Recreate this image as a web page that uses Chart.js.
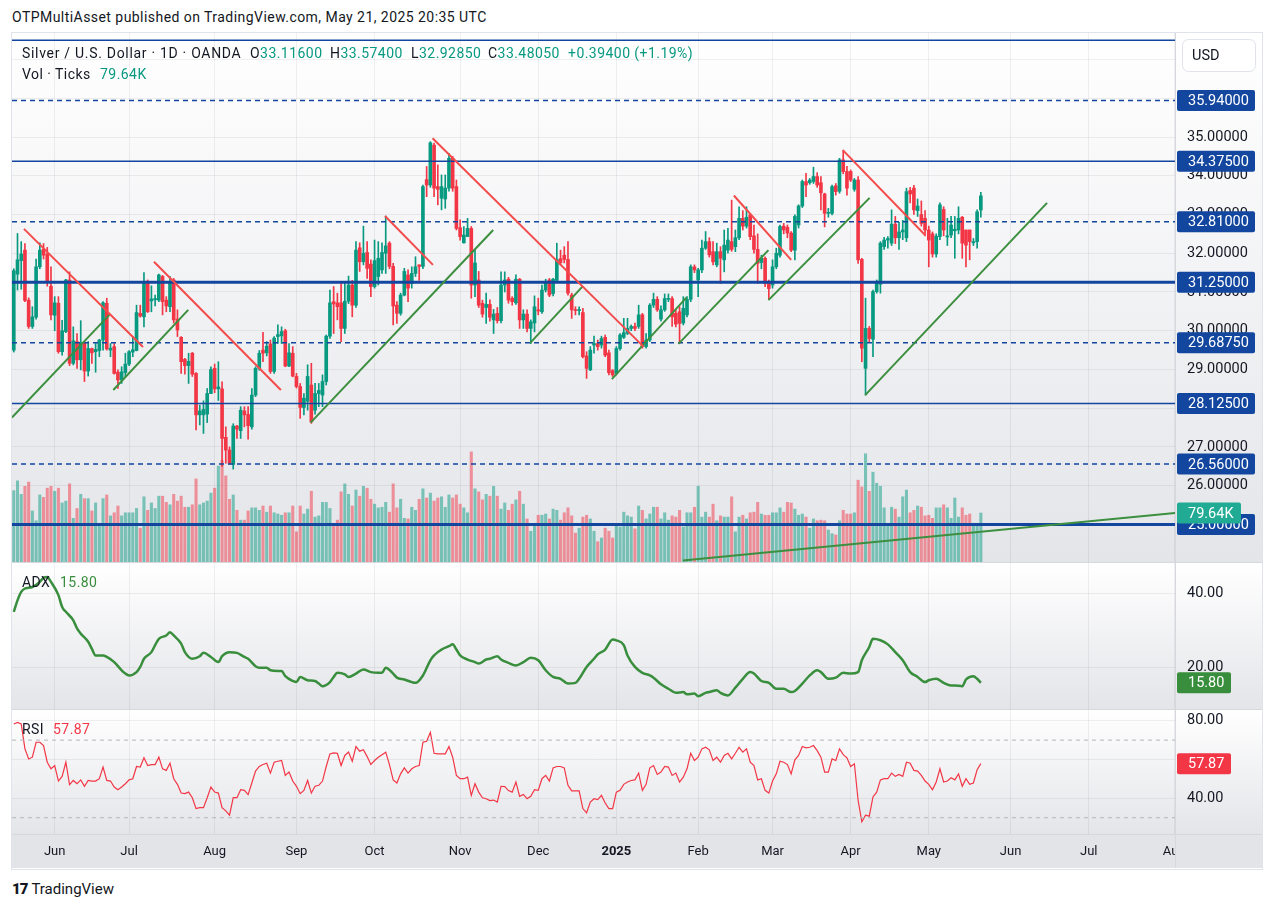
<!DOCTYPE html>
<html>
<head>
<meta charset="utf-8">
<script src="https://cdn.jsdelivr.net/npm/chart.js@4.4.1/dist/chart.umd.min.js"></script>
<style>
  body { margin: 0; width: 1274px; height: 913px; background: #fff; position: relative; overflow: hidden;
         font-family: Roboto, "Noto Sans", sans-serif; color: #131722; }
  canvas { position: absolute; }
  .abs { position: absolute; white-space: nowrap; font-size: 14px; letter-spacing: 0.45px; }
  .v { color: #089981; }
  #pub { left: 12px; top: 9px; }
  #frame { position: absolute; left: 11px; top: 32px; width: 1250px; height: 836px; border: 1px solid #e0e3eb; }
  .sep { position: absolute; left: 12px; width: 1250px; height: 1px; background: #d6d8de; }
  .t1 { top: 45px; }
  .t2 { top: 66px; }
  #foot { left: 12px; top: 880px; font-size: 15px; letter-spacing: 0; }
  #foot b { font-weight: 900; letter-spacing: -1px; margin-right: 4px; }
</style>
</head>
<body>
<div id="pub" class="abs">OTPMultiAsset published on TradingView.com, May 21, 2025 20:35 UTC</div>
<div id="frame"></div>
<canvas id="cMain" width="1250" height="529" style="left:12px;top:33px"></canvas>
<div class="sep" style="top:562px"></div>
<canvas id="cAdx" width="1250" height="146" style="left:12px;top:563px"></canvas>
<div class="sep" style="top:709px"></div>
<canvas id="cRsi" width="1250" height="158" style="left:12px;top:710px"></canvas>

<div class="abs t1" style="left:22px;letter-spacing:0.7px">Silver / U.S. Dollar · 1D · OANDA</div>
<div class="abs t1" style="left:250px">O<span class="v">33.11600</span></div>
<div class="abs t1" style="left:330px">H<span class="v">33.57400</span></div>
<div class="abs t1" style="left:411px">L<span class="v">32.92850</span></div>
<div class="abs t1" style="left:488px">C<span class="v">33.48050</span></div>
<div class="abs t1 v" style="left:568px">+0.39400 (+1.19%)</div>
<div class="abs t2" style="left:22px">Vol · Ticks</div>
<div class="abs t2 v" style="left:100px">79.64K</div>
<div class="abs" style="left:22px;top:574px">ADX</div>
<div class="abs" style="left:60px;top:574px;color:#388e3c">15.80</div>
<div class="abs" style="left:22px;top:721px">RSI</div>
<div class="abs" style="left:53px;top:721px;color:#f23645">57.87</div>
<div id="foot" class="abs"><b>17</b>TradingView</div>

<script>
// bar index 0 = 17 May 2024, one bar per trading day, last bar (260) = 21 May 2025
const monthIdx = [11, 31, 54, 76, 97, 120, 141, 162, 184, 204, 225, 246, 268, 289, 312];
const monthLabels = ['Jun', 'Jul', 'Aug', 'Sep', 'Oct', 'Nov', 'Dec', '2025', 'Feb', 'Mar', 'Apr', 'May', 'Jun', 'Jul', 'Aug'];

const opens = [
  29.50,31.46,31.81,32.08,30.79,30.11,30.35,31.65,32.10,31.98,
  31.15,30.40,30.71,29.46,29.98,31.31,29.16,29.72,29.25,29.69,
  28.96,29.54,29.46,29.49,29.76,30.71,29.50,29.59,28.93,28.73,
  28.92,29.14,29.45,29.49,30.45,30.36,31.22,30.77,30.80,30.79,
  31.40,30.79,30.62,31.31,30.30,29.83,29.26,29.10,29.42,28.90,
  27.83,27.83,27.85,28.38,29.03,28.50,28.50,27.25,26.92,26.55,
  27.54,27.42,27.93,27.84,27.52,28.34,29.03,29.50,29.43,29.66,
  28.95,29.85,29.87,30.00,29.09,29.42,28.82,28.56,28.02,28.18,
  28.60,27.95,28.38,28.34,28.69,29.86,30.75,30.72,30.72,30.06,
  30.76,31.18,30.66,32.14,31.78,32.02,31.72,31.14,31.40,31.57,
  32.00,32.26,31.66,30.66,30.45,30.92,31.44,31.22,31.48,31.70,
  31.66,33.90,33.76,34.79,33.72,33.42,33.40,33.68,34.45,33.72,
  32.66,32.27,32.43,32.64,31.18,31.31,30.71,30.60,30.68,30.28,
  30.45,30.26,31.18,31.33,30.84,30.72,31.33,30.28,30.43,30.06,
  30.20,30.54,30.49,31.05,31.31,30.96,31.30,31.86,31.95,31.84,
  30.92,30.54,30.52,30.47,29.35,28.99,29.63,29.67,29.63,29.83,
  29.43,28.97,28.90,29.54,29.83,29.93,30.06,30.11,30.11,30.41,
  29.59,29.76,30.66,30.81,30.30,30.54,30.81,30.83,30.45,30.49,
  30.20,30.41,30.81,31.65,31.31,31.57,32.13,32.30,32.04,31.70,
  32.04,31.83,32.08,32.30,32.17,32.40,32.90,32.70,32.99,32.45,
  32.10,31.76,31.87,31.27,31.18,31.65,31.95,32.70,32.67,32.52,
  32.08,32.73,33.22,33.85,33.82,33.85,33.98,33.82,33.53,33.03,
  33.03,33.74,33.60,34.41,34.11,34.11,33.65,33.89,31.84,29.03,
  30.06,29.78,31.01,31.20,32.17,32.34,32.26,32.75,32.40,32.55,
  32.40,33.62,33.68,33.10,33.00,32.90,32.60,32.50,31.98,32.43,
  33.13,32.42,32.47,32.58,32.60,32.93,32.60,32.60,32.27,32.30,
  33.116
];
const highs = [
  31.60,32.51,32.30,32.25,30.85,30.62,31.85,32.27,32.25,32.15,
  31.65,30.88,30.88,30.27,31.33,31.52,30.10,29.93,30.26,29.72,
  29.72,29.55,29.67,29.78,30.75,30.84,29.67,29.67,28.99,29.07,
  29.42,29.49,29.85,30.66,30.66,31.50,31.31,31.16,30.92,31.46,
  31.43,30.88,31.40,31.35,30.54,29.85,29.29,29.42,29.44,28.92,
  28.08,28.19,28.51,29.07,29.14,29.20,28.68,27.52,27.00,27.60,
  27.56,28.04,28.04,28.04,28.51,29.07,29.49,29.96,29.72,29.76,
  29.85,30.15,30.10,30.04,29.67,29.59,28.90,28.64,28.38,29.12,
  29.16,28.64,28.64,28.86,29.89,31.05,31.14,30.97,31.22,31.27,
  31.41,31.30,32.30,32.27,32.70,32.30,31.83,32.34,32.30,32.27,
  32.96,32.30,31.74,30.75,30.97,31.61,31.57,31.65,31.91,31.70,
  33.76,34.24,34.88,34.84,34.28,34.02,34.02,34.58,34.50,33.89,
  32.86,32.69,32.90,32.69,32.08,31.53,30.79,30.97,30.80,30.55,
  30.60,31.52,31.52,31.38,30.88,31.44,31.35,30.54,30.54,30.28,
  30.90,30.84,31.18,31.33,31.35,31.35,32.26,32.08,32.17,32.30,
  30.97,30.62,30.62,30.58,29.46,29.59,29.86,29.76,29.86,29.89,
  29.50,29.00,29.59,29.93,30.32,30.32,30.15,30.20,30.66,30.45,
  29.93,30.70,30.97,30.88,30.64,30.95,30.95,30.88,30.54,30.62,
  30.88,30.88,31.70,31.70,31.61,32.34,32.56,32.40,32.30,32.26,
  32.17,32.60,32.64,33.37,32.60,33.20,33.10,33.20,33.03,32.73,
  32.50,31.95,31.91,31.31,31.83,32.13,32.73,32.77,32.73,32.56,
  32.99,33.25,33.89,34.06,33.93,34.22,34.08,33.98,33.55,33.16,
  33.76,33.80,34.45,34.66,34.24,34.15,33.93,33.98,31.87,30.84,
  30.11,31.05,31.31,32.30,32.41,32.43,33.12,32.95,32.80,32.85,
  33.68,33.70,33.75,33.40,33.35,33.10,32.70,32.55,32.50,33.30,
  33.20,32.90,32.95,32.95,33.20,32.95,32.60,32.60,32.38,33.12,
  33.574
];
const lows = [
  29.45,31.05,31.07,30.75,30.06,30.06,30.30,31.60,31.85,31.15,
  30.28,30.00,29.42,29.37,29.95,29.10,29.12,29.03,28.99,28.69,
  28.83,29.16,28.93,29.33,29.50,29.50,29.33,28.88,28.51,28.64,
  28.82,29.10,29.33,29.48,30.35,30.10,30.47,30.49,30.64,30.75,
  30.41,30.49,30.49,30.20,29.85,28.90,28.88,28.64,28.82,27.44,
  27.57,27.35,27.63,28.38,28.40,28.20,26.50,26.58,26.55,26.43,
  27.22,27.22,27.52,27.20,27.46,28.30,28.98,29.20,29.35,28.90,
  28.90,29.67,29.67,29.07,29.07,28.81,28.52,27.74,27.83,27.95,
  27.61,27.85,28.04,28.04,28.60,29.80,29.93,30.28,29.72,29.93,
  30.70,30.36,30.60,31.53,31.70,31.35,30.88,31.10,31.18,31.48,
  31.48,31.60,30.15,30.19,30.40,30.90,30.75,31.10,31.40,31.30,
  31.60,33.46,33.70,33.46,33.25,33.12,33.16,33.60,33.60,32.60,
  32.34,32.26,32.43,30.84,30.88,30.60,30.35,30.19,30.25,29.93,
  30.20,30.20,31.00,30.71,30.66,30.68,30.06,30.06,29.97,29.67,
  29.97,30.41,30.45,31.00,30.88,30.90,31.25,31.70,31.75,30.92,
  30.32,30.41,30.41,29.30,28.77,28.97,29.42,29.50,29.55,29.33,
  28.86,28.82,28.86,29.50,29.80,29.90,30.00,30.00,30.06,29.55,
  29.55,29.72,30.60,30.50,30.25,30.50,30.75,30.11,30.10,29.67,
  30.15,30.36,30.75,31.50,30.88,31.50,32.10,31.90,31.70,31.65,
  31.22,31.52,32.00,32.05,32.04,32.35,32.60,32.65,32.35,32.00,
  31.22,31.60,31.14,30.80,31.10,31.60,31.90,32.50,32.40,32.04,
  31.83,32.65,33.18,33.46,33.78,33.80,33.70,33.12,32.68,32.93,
  32.99,33.50,33.55,34.05,33.50,33.85,33.60,31.74,29.20,28.34,
  29.70,29.33,30.97,30.97,32.10,32.13,32.20,32.25,32.10,32.35,
  32.30,33.30,33.00,32.95,32.70,32.45,31.65,31.90,31.90,32.35,
  32.45,32.20,32.40,31.87,32.50,31.87,31.65,31.83,32.20,32.13,
  32.9285
];
const closes = [
  31.55,31.83,31.98,30.78,30.11,30.36,31.65,32.08,31.95,31.27,
  30.41,30.72,29.46,30.00,31.31,29.16,29.74,29.25,29.70,28.96,
  29.54,29.43,29.52,29.76,30.72,29.53,29.55,28.90,28.73,28.94,
  29.14,29.46,29.51,30.47,30.38,31.22,30.49,30.82,30.83,31.44,
  30.75,30.64,31.24,30.28,30.02,29.20,29.10,29.21,28.88,27.83,
  27.93,27.97,28.38,29.00,28.50,28.55,27.22,26.92,26.58,27.54,
  27.46,27.95,27.83,27.55,28.34,29.03,29.42,29.42,29.60,28.95,
  29.81,29.90,29.98,29.09,29.43,28.83,28.56,28.02,28.26,28.82,
  27.65,28.38,28.46,28.69,29.86,30.72,30.69,30.62,30.06,30.76,
  31.18,30.66,32.08,31.78,32.00,31.61,31.14,31.81,31.87,32.02,
  32.19,31.66,30.64,30.45,30.92,31.53,31.10,31.48,31.65,31.66,
  33.72,33.76,34.85,33.68,33.65,33.72,33.68,34.45,33.68,32.64,
  32.43,32.47,32.64,31.18,31.75,30.66,30.43,30.68,30.35,30.43,
  30.26,31.18,31.31,30.79,30.75,31.33,30.28,30.43,30.06,30.23,
  30.62,30.51,31.05,31.27,30.92,31.33,31.84,31.76,31.84,30.97,
  30.54,30.52,30.54,29.33,29.03,29.50,29.67,29.59,29.80,29.37,
  28.92,28.86,29.54,29.89,29.95,30.06,30.11,30.06,30.41,29.59,
  29.76,30.66,30.81,30.54,30.54,30.83,30.83,30.36,30.17,30.19,
  30.58,30.81,31.65,31.57,31.57,32.13,32.30,31.96,31.78,32.04,
  31.87,32.21,32.34,32.10,32.40,32.90,32.70,32.93,32.43,32.10,
  31.74,31.87,31.22,31.09,31.65,32.00,32.69,32.60,32.52,32.08,
  32.95,33.22,33.85,33.76,33.89,33.98,33.76,33.56,33.03,33.05,
  33.72,33.59,34.41,34.11,33.68,33.89,33.89,31.83,29.55,30.06,
  29.80,31.01,31.27,32.26,32.34,32.38,32.75,32.40,32.55,32.60,
  33.59,33.53,33.12,33.22,32.77,32.60,32.34,31.98,32.44,33.25,
  32.60,32.45,32.73,32.62,32.90,32.26,32.21,32.30,32.30,33.07,
  33.4805
];
// volume in thousands of ticks
const volumes = [
  116,132,110,123,130,83,67,109,105,120,
  123,115,120,96,99,127,71,87,110,103,
  103,83,96,63,103,109,75,80,91,75,
  80,80,80,87,55,106,84,96,87,107,
  107,97,93,110,99,107,89,89,93,135,
  93,96,99,112,120,156,165,140,102,109,
  84,68,68,83,88,88,84,91,81,91,
  80,78,76,80,80,91,49,91,78,86,
  115,73,75,97,97,87,63,68,114,127,
  110,91,117,107,123,120,102,94,88,89,
  97,81,127,88,102,71,70,89,84,102,
  119,104,112,99,104,106,89,109,104,109,
  94,88,80,179,119,114,101,110,107,123,
  107,86,96,84,94,101,115,94,70,50,
  63,76,76,78,70,86,84,68,80,88,
  75,47,55,73,76,70,50,33,39,55,
  50,39,59,57,81,75,73,54,91,84,
  70,78,89,89,70,80,68,75,73,84,
  57,80,80,89,123,73,81,73,94,67,
  75,73,73,106,49,73,76,70,80,81,
  97,78,76,76,80,80,88,81,97,96,
  86,76,78,73,55,70,67,68,67,52,
  46,44,67,84,78,78,80,133,122,176,
  115,146,128,123,88,63,89,86,73,106,
  117,80,84,91,89,75,76,71,88,88,
  93,88,71,104,73,88,76,78,63,63,
  79.64
];
const adxBars = [0,1,2,3,4,5,7,8,9,10,12,13,14,16,17,18,20,21,22,24,25,27,29,30,31,33,34,35,37,38,39,41,42,43,45,46,48,50,51,53,55,56,58,60,62,63,65,66,68,69,71,72,73,75,76,77,79,81,82,83,85,86,87,89,90,92,94,96,98,99,100,102,103,105,107,108,110,112,113,114,115,117,118,119,120,122,124,125,127,128,130,131,133,135,137,139,141,143,145,147,149,151,152,154,156,157,159,161,162,164,165,167,169,171,172,174,176,178,180,181,183,184,186,187,189,190,192,194,196,198,199,201,203,205,207,209,210,212,214,216,217,219,221,223,225,227,228,230,231,233,235,237,239,241,243,245,246,248,250,252,253,255,256,258,259,260];
const adxValues = [35.0,38.1,40.4,41.3,41.5,41.7,43.1,44.2,44.4,43.1,39.5,36.3,35.0,32.7,30.5,29.1,26.9,25.0,23.2,23.2,22.8,21.4,19.2,18.3,17.8,18.7,20.1,22.3,24.1,26.0,27.7,28.6,29.5,28.6,26.4,24.1,22.3,23.0,23.9,22.8,21.4,23.0,24.1,23.9,22.8,22.3,20.3,19.9,19.9,19.2,19.0,19.0,17.6,16.3,16.0,17.4,16.5,16.3,15.6,14.9,16.0,17.4,18.5,18.1,17.4,18.3,19.4,18.7,18.5,18.5,19.9,18.3,17.2,16.7,16.0,15.8,17.8,21.9,23.2,24.1,24.8,25.7,26.2,24.8,23.2,22.1,21.4,21.0,22.1,22.3,23.0,22.1,21.2,20.5,21.4,22.6,21.9,19.2,17.4,16.9,15.6,15.8,16.9,20.1,22.3,23.5,24.8,27.5,27.3,26.0,23.2,20.1,18.5,17.8,17.2,15.4,14.2,13.1,13.3,12.7,12.9,12.2,13.1,13.3,13.8,13.1,12.4,14.5,16.9,18.7,18.3,16.3,15.8,14.2,14.2,13.3,13.6,15.6,17.8,19.2,18.7,16.9,17.2,18.5,18.3,18.7,21.9,25.5,27.7,27.3,26.2,24.1,21.9,18.7,17.4,16.0,16.5,16.9,15.8,15.1,15.1,14.9,16.7,17.6,16.9,15.8];
const rsiValues = [
  78.3,79.1,78.3,65.5,60.3,61.2,68.9,68.9,67.2,58.6,
  55.2,56.9,48.9,51.3,58.6,47.0,49.2,47.5,49.5,46.2,
  49.2,48.9,48.9,50.1,56.1,49.2,48.9,45.8,44.4,45.8,
  47.5,49.5,50.1,56.4,56.1,60.9,56.9,57.4,57.4,61.2,
  55.2,54.4,58.1,50.1,47.2,42.7,42.4,43.2,40.3,34.7,
  35.2,35.2,40.3,45.8,43.2,42.7,35.2,33.5,31.3,40.3,
  40.3,44.4,44.1,41.9,47.9,54.0,56.4,57.4,58.1,53.0,
  58.6,59.1,59.5,51.8,53.5,48.9,46.2,42.4,44.1,49.2,
  42.7,46.2,46.7,48.9,56.4,62.9,63.4,63.2,56.9,62.1,
  63.8,59.1,66.7,64.3,65.0,61.5,57.4,59.5,61.2,62.5,
  63.8,57.4,49.5,47.9,52.6,55.7,53.0,55.2,56.4,56.9,
  68.9,69.4,74.0,63.2,62.9,62.9,62.9,66.7,61.2,51.8,
  50.1,50.1,50.9,41.5,47.5,43.2,40.3,39.8,38.8,39.1,
  38.1,46.2,46.0,44.0,43.2,48.4,41.0,42.0,39.8,41.0,
  44.4,44.1,50.1,51.8,48.9,55.7,56.4,56.4,55.7,46.7,
  43.8,43.8,43.8,34.7,32.5,38.1,39.8,39.3,41.5,37.6,
  34.7,34.7,43.2,44.1,47.2,48.4,49.2,49.5,53.0,44.1,
  47.2,55.7,56.9,52.3,53.5,56.4,56.1,51.8,53.0,48.4,
  50.9,55.2,63.2,59.5,61.2,65.5,66.3,65.0,59.5,61.2,
  58.6,62.1,63.2,60.3,63.2,66.3,63.8,65.5,58.6,56.9,
  49.5,50.1,44.1,42.7,48.9,52.6,59.1,58.6,57.4,52.6,
  59.8,62.1,66.7,66.0,66.3,67.2,64.6,61.2,53.5,53.5,
  60.3,59.5,65.5,62.5,60.9,56.4,57.8,39.0,27.9,31.3,
  30.8,40.7,43.2,49.5,50.1,50.1,53.0,51.3,52.3,51.3,
  58.6,58.1,54.4,54.0,51.8,48.9,47.2,44.4,48.4,55.2,
  48.4,48.9,50.6,49.5,52.6,46.2,50.1,47.2,47.9,54.7,
  57.87
];
const priceTicks = [25, 26, 27, 28, 29, 30, 31, 32, 33, 34, 35, 36, 37];
const adxTicks = [20, 40];
const rsiTicks = [40, 60, 80];
const rsiBands = [70, 30];
// horizontal levels drawn on the chart
const levels = [37.5, 35.94, 34.375, 32.81, 31.25, 29.6875, 28.125, 26.56, 25.0];
const dashedLevels = [35.94, 32.81, 29.6875, 26.56];
const thickLevels = [31.25, 25.0];
// trend lines [bar1, price1, bar2, price2]
const redLines = [
  [2.74, 32.63, 34.74, 29.58], [37.7, 31.78, 71.8, 28.47], [99.8, 32.96, 112.7, 31.70],
  [112.6, 34.97, 169.3, 29.59], [193.6, 33.49, 209.0, 31.83], [222.9, 34.66, 245.0, 32.47]
];
const greenLines = [
  [-0.5, 27.76, 25.7, 30.41], [26.76, 28.47, 46.9, 30.54], [79.8, 27.63, 128.9, 32.60],
  [138.8, 29.68, 153.0, 31.15], [160.8, 28.75, 180.9, 30.86], [178.7, 29.66, 202.9, 32.08],
  [202.9, 30.79, 230.1, 33.43], [228.9, 28.34, 277.8, 33.30], [179.9, 24.07, 312.5, 25.30]
];

const X_MIN = -0.48, X_MAX = 312.2;
const UP = '#089981', DOWN = '#f23645', NAVY = '#12469f';
const GRID = 'rgba(42, 46, 57, 0.07)';
const AXIS_W = 87;
const AXIS_FONT = '14.5px Roboto, sans-serif';

Chart.defaults.font.family = 'Roboto, "Noto Sans", sans-serif';
Chart.defaults.font.size = 13;
Chart.defaults.color = '#131722';

const last = closes.length - 1;
const isUp = i => closes[i] >= opens[i];

function monthTicks(scale) { scale.ticks = monthIdx.map(v => ({ value: v })); }

function xScale(showLabels) {
    return {
        type: 'linear', min: X_MIN, max: X_MAX, offset: false,
        afterBuildTicks: monthTicks,
        afterFit: s => { s.height = showLabels ? 34 : 0; s.paddingLeft = 0; s.paddingRight = 0; },
        ticks: {
            display: showLabels, autoSkip: false, maxRotation: 0, padding: 10,
            callback: (v, i) => monthLabels[i],
            font: ctx => ({ size: 13, weight: ctx.index === 7 ? 'bold' : 'normal' })
        },
        grid: { color: GRID, drawTicks: false, offset: false },
        border: { display: false }
    };
}

// hideNear: value of the pane's last-value badge; a tick label under it is left out
function yScale(min, max, ticks, digits, hideNear) {
    return {
        position: 'right', min: min, max: max,
        afterBuildTicks: s => { s.ticks = ticks.map(v => ({ value: v })); },
        // fixed axis width, and no extra room for the end labels
        afterFit: s => { s.width = AXIS_W; s.paddingTop = 0; s.paddingBottom = 0; },
        ticks: {
            padding: 12, font: { size: 14.5 },
            callback: v => (hideNear !== undefined && Math.abs(v - hideNear) < 4) ? '' : v.toFixed(digits)
        },
        grid: { color: GRID, drawTicks: false },
        border: { display: true, color: '#d6d8de' }
    };
}

const paneBg = {
    id: 'paneBg',
    beforeDraw(chart) {
        const { ctx, chartArea: a, width, height } = chart;
        const g = ctx.createLinearGradient(0, a.top, 0, a.bottom);
        g.addColorStop(0, '#ffffff');
        g.addColorStop(1, '#e4e5e9');
        ctx.save();
        ctx.fillStyle = g;
        ctx.fillRect(0, a.top, width, a.bottom - a.top);
        if (height > a.bottom) {
            ctx.fillStyle = '#e3e4e8';
            ctx.fillRect(0, a.bottom, width, height - a.bottom);
        }
        ctx.restore();
    }
};

function badge(ctx, x, y, w, text, bg) {
    ctx.fillStyle = bg;
    ctx.beginPath();
    ctx.roundRect(x, y - 10.5, w, 21, 2);
    ctx.fill();
    ctx.fillStyle = '#ffffff';
    ctx.font = AXIS_FONT;
    ctx.textBaseline = 'middle';
    ctx.textAlign = 'left';
    ctx.fillText(text, x + 11, y + 1);
}

const mainBadges = {
    id: 'mainBadges',
    afterDraw(chart) {
        const { ctx, chartArea: a, scales } = chart;
        const x0 = a.right + 2;
        ctx.save();
        levels.forEach(L => {
            if (L > 37) return;
            badge(ctx, x0, scales.y.getPixelForValue(L), 78, L.toFixed(5), NAVY);
        });
        badge(ctx, x0, scales.yVol.getPixelForValue(volumes[last]), 64, volumes[last].toFixed(2) + 'K', '#22ab94');
        // currency button
        ctx.fillStyle = '#ffffff';
        ctx.strokeStyle = '#e0e3eb';
        ctx.beginPath();
        ctx.roundRect(a.right + 7.5, 6.5, 73, 32, 6);
        ctx.fill();
        ctx.stroke();
        ctx.fillStyle = '#131722';
        ctx.font = AXIS_FONT;
        ctx.textBaseline = 'middle';
        ctx.fillText('USD', a.right + 17, 23);
        ctx.restore();
    }
};

function valueBadge(getVal, w, color, digits) {
    return {
        id: 'valueBadge',
        afterDraw(chart) {
            const { ctx, chartArea: a, scales } = chart;
            ctx.save();
            const v = getVal();
            badge(ctx, a.right + 2, scales.y.getPixelForValue(v), w, v.toFixed(digits), color);
            ctx.restore();
        }
    };
}

const axisCorner = {
    id: 'axisCorner',
    afterDraw(chart) {
        const { ctx, chartArea: a, width, height } = chart;
        ctx.save();
        ctx.fillStyle = '#e3e4e8';
        ctx.fillRect(a.right, a.bottom, width - a.right, height - a.bottom);
        ctx.fillStyle = '#d6d8de';
        ctx.fillRect(a.right, a.bottom, 1, height - a.bottom);
        ctx.fillRect(0, a.bottom, width, 1);
        ctx.restore();
    }
};

function segment(l, color, order) {
    return {
        type: 'line', data: [{ x: l[0], y: l[1] }, { x: l[2], y: l[3] }],
        borderColor: color, borderWidth: 2, pointRadius: 0, order: order
    };
}

const levelSets = levels.map(L => ({
    type: 'line', data: [{ x: X_MIN, y: L }, { x: X_MAX, y: L }],
    borderColor: NAVY,
    borderWidth: thickLevels.includes(L) ? 3 : 1.5,
    borderDash: dashedLevels.includes(L) ? [5, 4] : [],
    pointRadius: 0, order: 1
}));

const candleColors = closes.map((c, i) => isUp(i) ? UP : DOWN);

const common = {
    responsive: false, animation: false, events: [], devicePixelRatio: 1,
    layout: { padding: 0 },
    plugins: { legend: { display: false }, tooltip: { enabled: false } }
};

new Chart(document.getElementById('cMain'), {
    type: 'bar',
    data: {
        datasets: [
            ...redLines.map(l => segment(l, '#f44c4c', 0)),
            ...greenLines.map(l => segment(l, '#3c8f3f', 0)),
            ...levelSets,
            {
                data: closes.map((c, i) => ({ x: i, y: [opens[i], c] })),
                backgroundColor: candleColors, barThickness: 3, minBarLength: 1,
                grouped: false, order: 2
            },
            {
                data: closes.map((c, i) => ({ x: i, y: [lows[i], highs[i]] })),
                backgroundColor: candleColors, barThickness: 1,
                grouped: false, order: 3
            },
            {
                data: volumes.map((v, i) => ({ x: i, y: v })), yAxisID: 'yVol',
                backgroundColor: volumes.map((v, i) => isUp(i) ? 'rgba(8,153,129,0.5)' : 'rgba(242,54,69,0.5)'),
                barThickness: 2.4, grouped: false, order: 4
            }
        ]
    },
    options: {
        ...common,
        scales: {
            x: xScale(false),
            y: yScale(24.032, 37.684, priceTicks, 5),
            yVol: { display: false, min: 0, max: 860 }
        }
    },
    plugins: [paneBg, mainBadges]
});

new Chart(document.getElementById('cAdx'), {
    type: 'line',
    data: {
        datasets: [{
            data: adxBars.map((b, k) => ({ x: b, y: adxValues[k] })),
            borderColor: '#388e3c', borderWidth: 2.5, pointRadius: 0, cubicInterpolationMode: 'monotone'
        }]
    },
    options: { ...common, scales: { x: xScale(false), y: yScale(8.73, 48.19, adxTicks, 2) } },
    plugins: [paneBg, valueBadge(() => adxValues[adxValues.length - 1], 54, '#388e3c', 2)]
});

new Chart(document.getElementById('cRsi'), {
    type: 'line',
    data: {
        datasets: [
            ...rsiBands.map(b => ({
                data: [{ x: X_MIN, y: b }, { x: X_MAX, y: b }],
                borderColor: '#b2b5be', borderWidth: 1, borderDash: [4, 4], pointRadius: 0
            })),
            {
                data: rsiValues.map((v, i) => ({ x: i, y: v })),
                borderColor: '#f23645', borderWidth: 1.2, pointRadius: 0
            }
        ]
    },
    options: { ...common, scales: { x: xScale(true), y: yScale(21.6, 85.52, rsiTicks, 2, rsiValues[last]) } },
    plugins: [paneBg, axisCorner, valueBadge(() => rsiValues[rsiValues.length - 1], 54, '#f23645', 2)]
});
</script>
</body>
</html>
